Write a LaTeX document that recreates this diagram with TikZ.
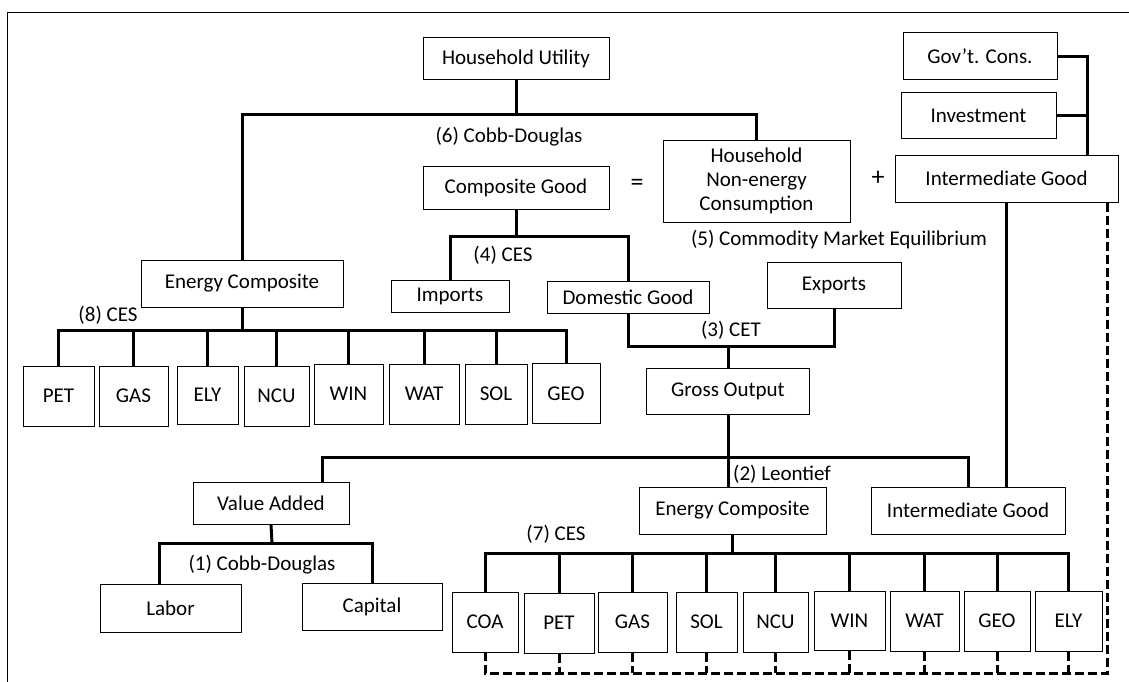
\documentclass[tikz,border=0pt]{standalone}
\usepackage{fontspec}
\setmainfont{Carlito}
\tikzset{
  box/.style 2 args={draw, line width=1pt, inner sep=0pt, minimum width=#1, minimum height=#2, align=center, font=\fontsize{21}{24}\selectfont},
  lbl/.style={inner sep=0pt, font=\fontsize{21}{24}\selectfont},
  thk/.style={line width=3pt},
  dsh/.style={line width=3pt, dash pattern=on 9pt off 4pt},
  frame/.style={line width=1pt},
}
\begin{document}
\begin{tikzpicture}[x=1pt,y=-1pt]

\useasboundingbox (0,0) rectangle (1129,682);
\draw[frame] (7,682) -- (7,13) -- (1129,13);

\node[box={186pt}{42pt}] (hu) at (516,59) {Household Utility};
\node[box={186pt}{43pt}] (cg) at (516,187.5) {Composite Good};
\node[box={187pt}{82pt}] (hnec) at (756.5,181) {Household\\Non-energy\\Consumption};
\node[box={154pt}{47pt}] (gov) at (980,56.5) {Gov’t. Cons.};
\node[box={155pt}{45pt}] (inv) at (978.5,115.5) {Investment};
\node[box={223pt}{47pt}] (igt) at (1006.5,178.5) {Intermediate Good};
\node[lbl, font=\fontsize{26}{28}\selectfont] (eq) at (637,185) {=};
\node[lbl, font=\fontsize{26}{28}\selectfont] (plus) at (878,178) {+};

\node[box={202pt}{47pt}] (ect) at (242,283.5) {Energy Composite};
\node[box={118pt}{32pt}] (imp) at (450,296) {Imports};
\node[box={162pt}{32pt}] (dom) at (628,297) {Domestic Good};
\node[box={134pt}{46pt}] (exp) at (834,285) {Exports};
\node[box={163pt}{46pt}] (go) at (728,391) {Gross Output};

\node[box={71pt}{60pt}] (petA) at (58.5,396) {PET};
\node[box={69pt}{60pt}] (gasA) at (133.5,396) {GAS};
\node[box={61pt}{58pt}] (elyA) at (207.5,395) {ELY};
\node[box={65pt}{60pt}] (ncuA) at (276.5,396) {NCU};
\node[box={69pt}{60pt}] (winA) at (348.5,394) {WIN};
\node[box={70pt}{60pt}] (watA) at (424,394) {WAT};
\node[box={62pt}{60pt}] (solA) at (496,394) {SOL};
\node[box={68pt}{60pt}] (geoA) at (566,393.5) {GEO};

\node[box={156pt}{42pt}] (va) at (271,503) {Value Added};
\node[box={187pt}{47pt}] (ecb) at (732.5,510.5) {Energy Composite};
\node[box={194pt}{47pt}] (igb) at (968,510.5) {Intermediate Good};
\node[box={141pt}{48pt}] (lab) at (170.5,608) {Labor};
\node[box={140pt}{47pt}] (cap) at (372,606.5) {Capital};

\node[box={66pt}{60pt}] (coaB) at (485,622) {COA};
\node[box={70pt}{60pt}] (petB) at (559,623) {PET};
\node[box={69pt}{60pt}] (gasB) at (632.5,622) {GAS};
\node[box={61pt}{60pt}] (solB) at (706.5,622) {SOL};
\node[box={65pt}{60pt}] (ncuB) at (775.5,622) {NCU};
\node[box={71pt}{59pt}] (winB) at (849.5,620.5) {WIN};
\node[box={69pt}{60pt}] (watB) at (924.5,621) {WAT};
\node[box={66pt}{60pt}] (geoB) at (997,621) {GEO};
\node[box={67pt}{60pt}] (elyB) at (1068.5,621) {ELY};

\node[lbl] (l6) at (509,137) {(6) Cobb-Douglas};
\node[lbl] (l4) at (503,255) {(4) CES};
\node[lbl] (l5) at (839,240) {(5) Commodity Market Equilibrium};
\node[lbl] (l3) at (731,330) {(3) CET};
\node[lbl] (l8) at (108,315) {(8) CES};
\node[lbl] (l2) at (782,474) {(2) Leontief};
\node[lbl] (l7) at (556,534) {(7) CES};
\node[lbl] (l1) at (262,565) {(1) Cobb-Douglas};

\coordinate (j6) at (516,115);
\coordinate (j4) at (516,236);
\coordinate (j3) at (728,346);
\coordinate (j2) at (728,457);
\coordinate (j8) at (242,330);
\coordinate (j7) at (732.5,553);
\coordinate (j1) at (272,543);
\coordinate (gj) at (1087,155);
\coordinate (dv) at (1107,673);

\draw[thk] (hu.south) -- (j6);
\draw[thk] (ect.north) |- (j6) -| (hnec.north);

\draw[thk] (cg.south) -- (j4);
\draw[thk] (imp.north) |- (j4) -| (dom.north);

\draw[thk] (dom.south) |- (j3) -| (exp.south);
\draw[thk] (j3) -- (go.north);

\draw[thk] (gov.east) -| (gj);
\draw[thk] (inv.east) -- (inv.east -| gj);
\draw[thk] (igt.south) -- (igt.south |- igb.north);

\draw[thk] (go.south) -- (j2) -- (j2 |- ecb.north);
\draw[thk] ([xshift=51pt]va.north) |- (j2) -| (igb.north);

\draw[thk] (ect.south) -- (j8);
\draw[thk] (petA.north) |- (j8) -| (geoA.north);
\draw[thk] (gasA.north) -- (gasA.north |- j8);
\draw[thk] (elyA.north) -- (elyA.north |- j8);
\draw[thk] (ncuA.north) -- (ncuA.north |- j8);
\draw[thk] (winA.north) -- (winA.north |- j8);
\draw[thk] (watA.north) -- (watA.north |- j8);
\draw[thk] (solA.north) -- (solA.north |- j8);

\draw[thk] (va.south) -- (j1);
\draw[thk] ([xshift=-11pt]lab.north) |- (j1) -| (cap.north);

\draw[thk] (ecb.south) -- (j7);
\draw[thk] (coaB.north) |- (j7) -| (elyB.north);
\draw[thk] (petB.north) -- (petB.north |- j7);
\draw[thk] (gasB.north) -- (gasB.north |- j7);
\draw[thk] (solB.north) -- (solB.north |- j7);
\draw[thk] (ncuB.north) -- (ncuB.north |- j7);
\draw[thk] (winB.north) -- (winB.north |- j7);
\draw[thk] (watB.north) -- (watB.north |- j7);
\draw[thk] (geoB.north) -- (geoB.north |- j7);

\draw[dsh] (igt.south -| dv) -- (dv) -- (coaB.south |- dv) -- (coaB.south);
\draw[dsh] (petB.south) -- (petB.south |- dv);
\draw[dsh] (gasB.south) -- (gasB.south |- dv);
\draw[dsh] (solB.south) -- (solB.south |- dv);
\draw[dsh] (ncuB.south) -- (ncuB.south |- dv);
\draw[dsh] (winB.south) -- (winB.south |- dv);
\draw[dsh] (watB.south) -- (watB.south |- dv);
\draw[dsh] (geoB.south) -- (geoB.south |- dv);
\draw[dsh] (elyB.south) -- (elyB.south |- dv);

\end{tikzpicture}
\end{document}
